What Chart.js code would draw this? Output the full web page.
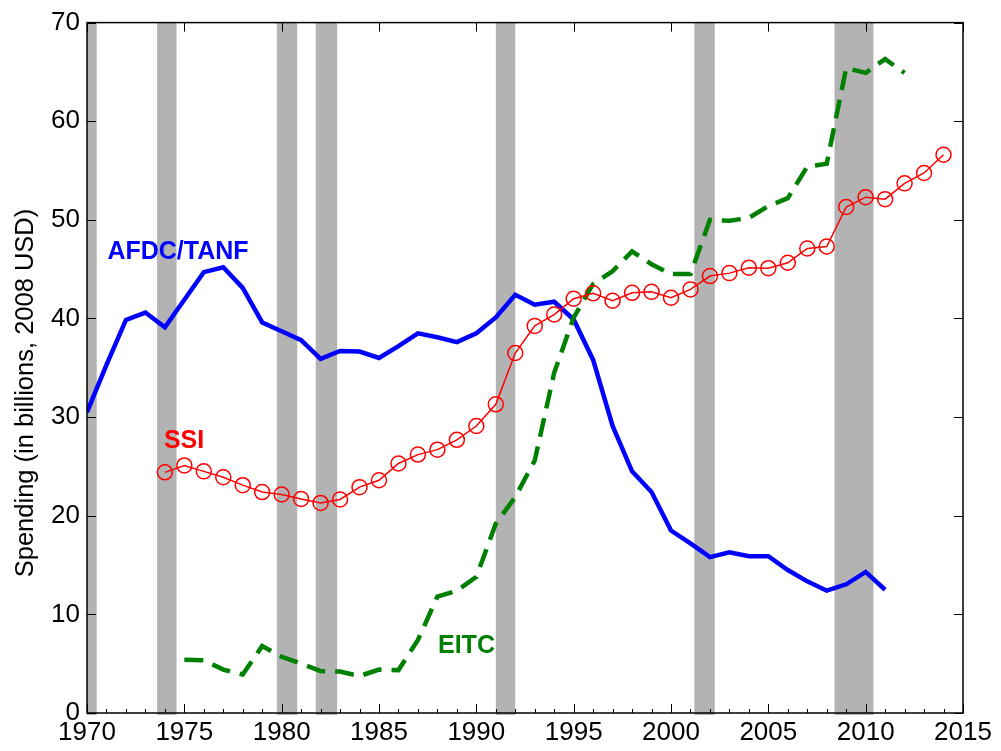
<!DOCTYPE html>
<html>
<head>
<meta charset="utf-8">
<script src="https://cdn.jsdelivr.net/npm/chart.js@4"></script>
<style>
  body { margin: 0; background: #fff; }
  canvas { display: block; }
</style>
</head>
<body>
<canvas id="chart" width="1001" height="751"></canvas>
<script>
// data (billions, 2008 USD)
const afdcYears = [1970,1971,1972,1973,1974,1975,1976,1977,1978,1979,1980,1981,1982,1983,1984,1985,1986,1987,1988,1989,1990,1991,1992,1993,1994,1995,1996,1997,1998,1999,2000,2001,2002,2003,2004,2005,2006,2007,2008,2009,2010,2011];
const afdcValues = [30.5,35.3,39.85,40.6,39.1,41.9,44.7,45.2,43.1,39.6,38.7,37.8,35.9,36.7,36.65,36.0,37.2,38.5,38.1,37.6,38.5,40.1,42.4,41.4,41.7,39.9,35.8,29.1,24.5,22.4,18.5,17.2,15.8,16.3,15.9,15.9,14.5,13.35,12.4,13.05,14.3,12.5];

const ssiYears = [1974,1975,1976,1977,1978,1979,1980,1981,1982,1983,1984,1985,1986,1987,1988,1989,1990,1991,1992,1993,1994,1995,1996,1997,1998,1999,2000,2001,2002,2003,2004,2005,2006,2007,2008,2009,2010,2011,2012,2013,2014];
const ssiValues = [24.4,25.1,24.5,23.9,23.1,22.4,22.15,21.7,21.3,21.65,22.9,23.6,25.3,26.2,26.7,27.7,29.1,31.3,36.5,39.25,40.4,42.0,42.55,41.8,42.6,42.7,42.1,42.95,44.3,44.6,45.15,45.1,45.65,47.1,47.3,51.3,52.3,52.1,53.7,54.75,56.6];

const eitcYears = [1975,1976,1977,1978,1979,1980,1981,1982,1983,1984,1985,1986,1987,1988,1989,1990,1991,1992,1993,1994,1995,1996,1997,1998,1999,2000,2001,2002,2003,2004,2005,2006,2007,2008,2009,2010,2011,2012];
const eitcValues = [5.4,5.35,4.4,3.9,6.8,5.7,5.0,4.25,4.2,3.75,4.4,4.35,7.4,11.8,12.4,13.8,19.2,21.9,25.6,34.5,40.1,43.5,44.8,46.8,45.5,44.5,44.5,50.0,49.9,50.2,51.4,52.2,55.4,55.7,65.4,64.9,66.3,64.9];

// recessions (grey bands)
const recessionStart = [1969.9,1973.6,1979.75,1981.75,1991.0,2001.2,2008.4];
const recessionEnd   = [1970.5,1974.6,1980.8,1982.85,1992.0,2002.25,2010.4];

const xTicks = [1970,1975,1980,1985,1990,1995,2000,2005,2010,2015];
const yTicks = [0,10,20,30,40,50,60,70];
const yTitle = 'Spending (in billions, 2008 USD)';

// series names written next to the lines
const seriesNames = ['AFDC/TANF', 'SSI', 'EITC'];
const nameAt = [[1971.05, 46.0], [1973.95, 26.9], [1988.03, 6.07]];
const nameColors = ['#0000ff', '#ff0000', '#008000'];

const FONT = "'Liberation Sans', Arial, sans-serif";
const ctx = document.getElementById('chart');

const toXY = (xs, ys) => xs.map((x, i) => ({ x: x, y: ys[i] }));

// grey bands under the lines
const bandsPlugin = {
  id: 'bands',
  beforeDatasetsDraw(chart) {
    const { ctx, chartArea: a, scales: { x } } = chart;
    ctx.save();
    ctx.fillStyle = '#b3b3b3';
    recessionStart.forEach((s, i) => {
      const x0 = Math.max(a.left, x.getPixelForValue(s));
      const x1 = Math.min(a.right, x.getPixelForValue(recessionEnd[i]));
      ctx.fillRect(x0, a.top, x1 - x0, a.bottom - a.top + 2);
    });
    ctx.restore();
  }
};

// box, inward ticks (matlab look), labels, y title
const framePlugin = {
  id: 'frame',
  afterDraw(chart) {
    const { ctx, chartArea: a, scales: { x, y } } = chart;
    ctx.save();
    ctx.strokeStyle = '#000';
    ctx.lineWidth = 1;
    ctx.beginPath();
    xTicks.forEach(v => {
      const px = Math.round(x.getPixelForValue(v)) + 0.5;
      ctx.moveTo(px, a.bottom); ctx.lineTo(px, a.bottom - 9);
      ctx.moveTo(px, a.top); ctx.lineTo(px, a.top + 9);
    });
    for (let yr = 1971; yr < 2015; yr++) {
      if (yr % 5 === 0) continue;
      const px = Math.round(x.getPixelForValue(yr)) + 0.5;
      ctx.moveTo(px, a.bottom); ctx.lineTo(px, a.bottom - 4);
    }
    yTicks.forEach(v => {
      const py = Math.round(y.getPixelForValue(v)) + 0.5;
      ctx.moveTo(a.left, py); ctx.lineTo(a.left + 9, py);
      ctx.moveTo(a.right, py); ctx.lineTo(a.right - 9, py);
    });
    ctx.stroke();
    ctx.lineWidth = 1.5;
    ctx.strokeRect(a.left, a.top, a.right - a.left, a.bottom - a.top);

    ctx.font = 'bold 25px ' + FONT;
    ctx.textBaseline = 'alphabetic';
    ctx.textAlign = 'left';
    seriesNames.forEach((t, i) => {
      ctx.fillStyle = nameColors[i];
      ctx.fillText(t, x.getPixelForValue(nameAt[i][0]), y.getPixelForValue(nameAt[i][1]));
    });

    ctx.font = '25.5px ' + FONT;
    ctx.fillStyle = '#000';
    ctx.translate(26, 393);
    ctx.rotate(-Math.PI / 2);
    ctx.textAlign = 'center';
    ctx.textBaseline = 'middle';
    ctx.fillText(yTitle, 0, 0);
    ctx.restore();
  }
};

const main = () => {
  const myChart = new Chart(ctx, {
    type: 'line',
    data: {
      datasets: [
        {
          label: 'SSI',
          data: toXY(ssiYears, ssiValues),
          borderColor: '#ff0000',
          borderWidth: 1.5,
          pointStyle: 'circle',
          pointRadius: 7.5,
          pointBorderWidth: 1.5,
          pointBorderColor: '#ff0000',
          pointBackgroundColor: 'rgba(0,0,0,0)',
          tension: 0,
        },
        {
          label: 'EITC',
          data: toXY(eitcYears, eitcValues),
          borderColor: '#008000',
          borderWidth: 4.5,
          borderDash: [19, 10],
          pointRadius: 0,
          tension: 0,
        },
        {
          label: 'AFDC/TANF',
          data: toXY(afdcYears, afdcValues),
          borderColor: '#0000ff',
          borderWidth: 4.5,
          pointRadius: 0,
          tension: 0,
        },
      ],
    },
    options: {
      responsive: false,
      animation: false,
      layout: { padding: { top: 21, right: 38, left: 0, bottom: 0 } },
      plugins: { legend: { display: false }, tooltip: { enabled: false } },
      scales: {
        x: {
          type: 'linear',
          min: 1970, max: 2015,
          afterFit: s => { s.height = 38; },
          afterBuildTicks: s => { s.ticks = xTicks.map(v => ({ value: v })); },
          grid: { display: false, drawTicks: false },
          border: { display: false },
          ticks: { color: '#000', font: { family: FONT, size: 26 }, padding: 4, maxRotation: 0, autoSkip: false,
                   callback: v => String(v) },
        },
        y: {
          min: 0, max: 70,
          afterFit: s => { s.width = 87; },
          afterBuildTicks: s => { s.ticks = yTicks.map(v => ({ value: v })); },
          grid: { display: false, drawTicks: false },
          border: { display: false },
          ticks: { color: '#000', font: { family: FONT, size: 26 }, padding: 7 },
        },
      },
    },
    plugins: [bandsPlugin, framePlugin],
  });
  console.log(myChart);
};

main();
</script>
</body>
</html>
